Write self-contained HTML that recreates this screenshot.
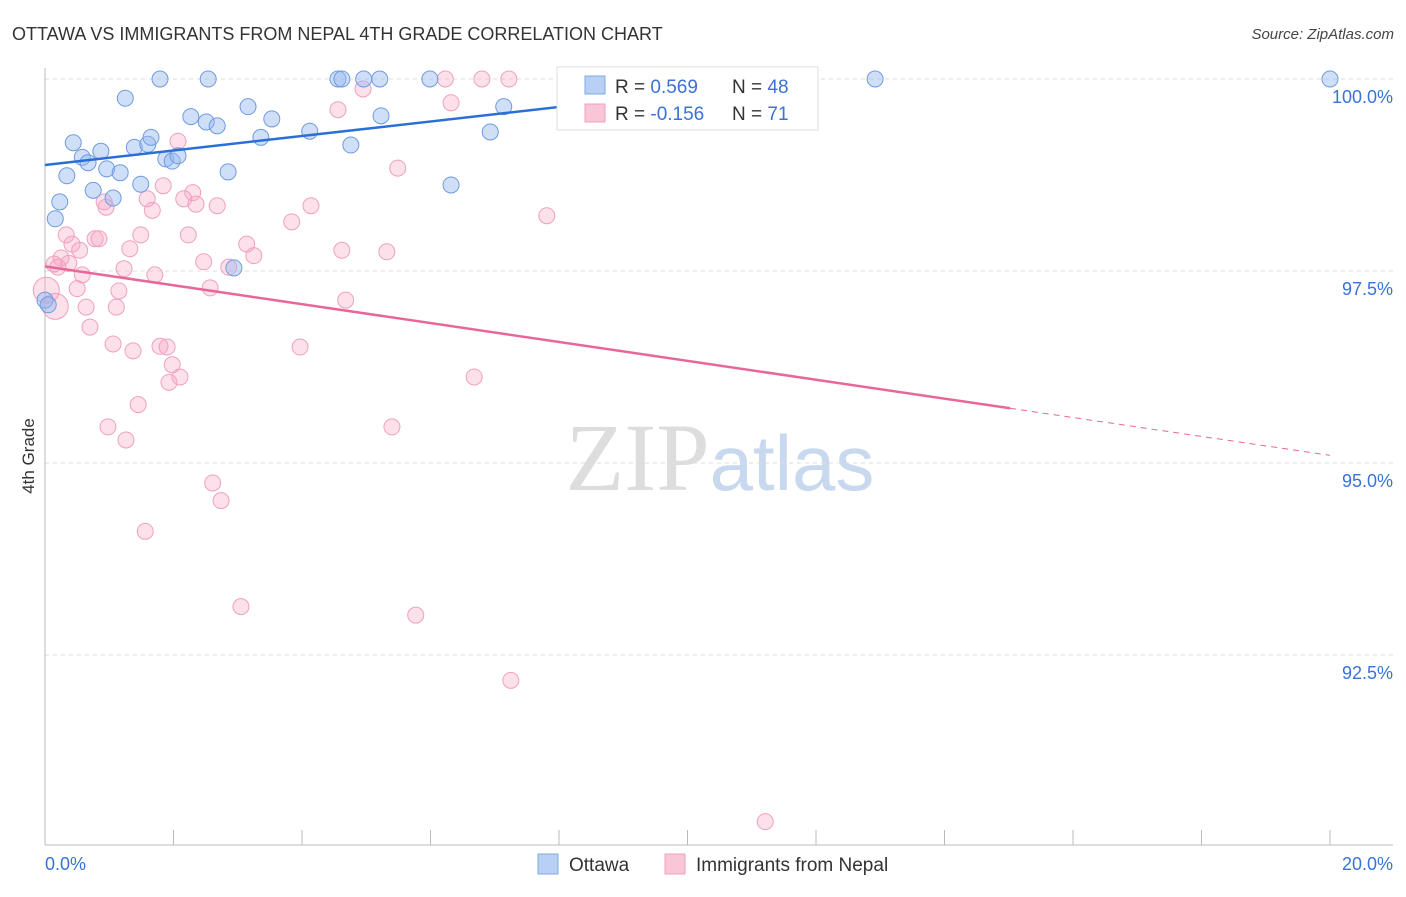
<!DOCTYPE html>
<html><head><meta charset="utf-8"><style>
body{margin:0;background:#fff;font-family:"Liberation Sans",sans-serif}
svg text{font-family:"Liberation Sans",sans-serif}
</style></head><body>
<svg id="chart" width="1406" height="892" viewBox="0 0 1406 892" xmlns="http://www.w3.org/2000/svg">
<text x="12" y="40" font-size="18" fill="#333">OTTAWA VS IMMIGRANTS FROM NEPAL 4TH GRADE CORRELATION CHART</text>
<text x="1394" y="39" font-size="15" fill="#444" text-anchor="end" font-style="italic">Source: ZipAtlas.com</text>
<text x="720" y="490" font-size="96" text-anchor="middle"><tspan fill="#ddd" font-family="Liberation Serif">ZIP</tspan><tspan fill="#c8d8ee" font-size="78">atlas</tspan></text>
<g id="grid"></g><g id="axes"></g><g id="pts"></g><g id="trends"></g>
<text transform="translate(34,456) rotate(-90)" font-size="17" fill="#333" text-anchor="middle">4th Grade</text>
<g>
<rect x="557" y="67" width="261" height="63" fill="#fff" stroke="#ddd"/>
<rect x="585" y="76" width="20" height="18" fill="#b9d0f5" stroke="#7fa8e0"/>
<rect x="585" y="104" width="20" height="18" fill="#f9c6d8" stroke="#f0a0c0"/>
<text x="615" y="93" font-size="19" fill="#333">R = <tspan fill="#3a72d8">0.569</tspan><tspan x="732">N = </tspan><tspan fill="#3a72d8">48</tspan></text>
<text x="615" y="120" font-size="19" fill="#333">R = <tspan fill="#3a72d8">-0.156</tspan><tspan x="732">N = </tspan><tspan fill="#3a72d8"> 71</tspan></text>
</g>
<g>
<rect x="538" y="854" width="20" height="20" fill="#b9d0f5" stroke="#7fa8e0"/>
<text x="569" y="871" font-size="19" fill="#333">Ottawa</text>
<rect x="665" y="854" width="20" height="20" fill="#f9c6d8" stroke="#f0a0c0"/>
<text x="696" y="871" font-size="19" fill="#333">Immigrants from Nepal</text>
</g>
</svg>
<script>
const blueX=[1.79,2.54,4.56,4.62,4.96,5.21,5.99,8.33,9.34,11.52,11.75,12.92,20.0,1.25,2.27,2.51,2.68,3.16,3.53,3.36,4.12,5.23,4.76,7.14,6.93,6.32,0.44,0.87,0.58,0.67,0.96,1.17,0.34,1.39,1.60,1.65,1.88,1.98,2.07,1.49,0.75,1.06,0.23,0.16,2.85,2.94,0,0.05];
const blueY=[100,100,100,100,100,100,100,100,100,100,100,100,100,99.75,99.51,99.44,99.39,99.64,99.48,99.24,99.32,99.52,99.14,99.64,99.31,98.62,99.17,99.06,98.98,98.91,98.83,98.78,98.74,99.11,99.15,99.24,98.96,98.93,99.00,98.63,98.55,98.45,98.40,98.18,98.79,97.54,97.12,97.06];
const pinkX=[6.23,6.80,7.22,4.95,4.56,6.32,2.07,5.49,1.84,2.30,2.16,2.35,2.68,1.59,1.67,0.92,0.95,4.14,3.84,7.81,0.33,0.78,0.84,0.42,0.54,1.32,1.49,2.23,3.14,3.25,4.62,5.32,0.25,0.14,0.20,0.37,1.23,1.71,2.47,2.86,0.58,0.50,1.15,2.57,4.68,0.02,0.16,0.64,1.11,0.70,1.06,1.37,1.79,1.90,3.97,1.98,2.10,1.93,6.68,1.45,0.98,1.26,5.40,2.61,2.74,1.56,3.05,5.77,7.25,11.21];
const pinkY=[100,100,100,99.87,99.60,99.69,99.19,98.84,98.61,98.52,98.44,98.37,98.35,98.44,98.29,98.40,98.33,98.35,98.14,98.22,97.97,97.92,97.92,97.85,97.77,97.79,97.97,97.97,97.85,97.70,97.77,97.75,97.67,97.59,97.55,97.60,97.53,97.45,97.62,97.55,97.45,97.27,97.24,97.28,97.12,97.25,97.04,97.03,97.03,96.77,96.55,96.46,96.52,96.51,96.51,96.28,96.12,96.05,96.12,95.76,95.47,95.30,95.47,94.74,94.51,94.11,93.13,93.02,92.17,90.33];
const pinkBig=[45,46];
const yTicks=[100,97.5,95,92.5];
const yTickLabels=["100.0%","97.5%","95.0%","92.5%"];
const xTicks=[0,2,4,6,8,10,12,14,16,18,20];
const blueTrend=[0,98.88,11.75,99.99];
const pinkTrend=[0,97.56,15.02,20,95.10];
const NS="http://www.w3.org/2000/svg";
const sx=v=>45+v*64.25, sy=v=>79+(100-v)*76.8;
function mk(p,t,a){const e=document.createElementNS(NS,t);for(const k in a)e.setAttribute(k,a[k]);p.appendChild(e);return e;}
const grid=document.getElementById('grid'),axes=document.getElementById('axes'),pts=document.getElementById('pts'),tr=document.getElementById('trends');
yTicks.forEach((t,i)=>{
 const l=mk(grid,'line',{x1:45,x2:1393,y1:sy(t),y2:sy(t),stroke:'#ddd','stroke-dasharray':'4 4'});
 
 
 const tx=mk(grid,'text',{x:1393,y:sy(t)+24,'font-size':18,fill:'#3a72d8','text-anchor':'end'});
 tx.textContent=yTickLabels[i];
 
 
});
const ya=mk(axes,'line',{x1:45,x2:45,y1:68,y2:845,stroke:'#bbb'});


const xa=mk(axes,'line',{x1:45,x2:1393,y1:845,y2:845,stroke:'#bbb'});


xTicks.forEach(t=>{const l=mk(axes,'line',{x1:sx(t),x2:sx(t),y1:830,y2:845,stroke:'#bbb'});
 
 });
[[0,"0.0%",'start',45],[20,"20.0%",'end',1393]].forEach(d=>{const t=mk(axes,'text',{x:d[3],y:870,'font-size':18,fill:'#3a72d8','text-anchor':d[2]});t.textContent=d[1];
 
 });
pinkX.forEach((x,i)=>{const big=pinkBig.includes(i);
 const c=mk(pts,'circle',{cx:sx(x),cy:sy(pinkY[i]),r:big?13:8,fill:'rgba(245,165,195,0.35)',stroke:'#f0a0c0','stroke-width':1});
 
 });
blueX.forEach((x,i)=>{
 const c=mk(pts,'circle',{cx:sx(x),cy:sy(blueY[i]),r:8,fill:'rgba(150,185,240,0.45)',stroke:'#6f9be0','stroke-width':1});
 
 });
const bt=mk(tr,'line',{x1:sx(blueTrend[0]),y1:sy(blueTrend[1]),x2:sx(blueTrend[2]),y2:sy(blueTrend[3]),stroke:'#2b6fd6','stroke-width':2.5});


const slope=(pinkTrend[4]-pinkTrend[1])/(pinkTrend[3]-pinkTrend[0]);
const ym=pinkTrend[1]+slope*pinkTrend[2];
const pt=mk(tr,'line',{x1:sx(pinkTrend[0]),y1:sy(pinkTrend[1]),x2:sx(pinkTrend[2]),y2:sy(ym),stroke:'#e8679a','stroke-width':2.5});


const pd=mk(tr,'line',{x1:sx(pinkTrend[2]),y1:sy(ym),x2:sx(pinkTrend[3]),y2:sy(pinkTrend[4]),stroke:'#e8679a','stroke-width':1,'stroke-dasharray':'6 5'});


</script>
</body></html>
